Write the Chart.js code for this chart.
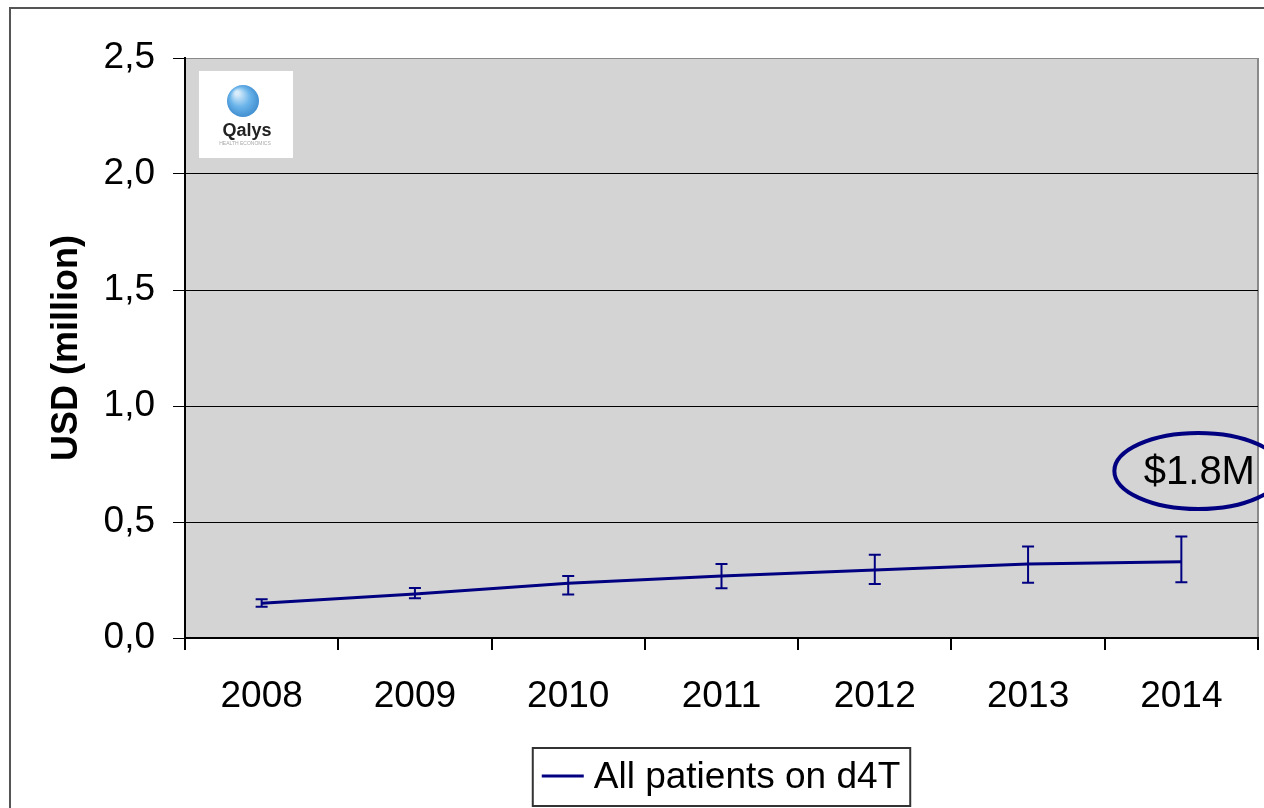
<!DOCTYPE html>
<html>
<head>
<meta charset="utf-8">
<script src="https://cdn.jsdelivr.net/npm/chart.js@4/dist/chart.umd.min.js"></script>
<style>
  html, body { margin: 0; padding: 0; background: #fff; }
  canvas { display: block; }
</style>
</head>
<body>
<canvas id="c" width="1264" height="808"></canvas>
<script>
// data
const years = ['2008', '2009', '2010', '2011', '2012', '2013', '2014'];
const cost = [0.150, 0.190, 0.236, 0.267, 0.293, 0.319, 0.329];
const errLow = [0.135, 0.171, 0.187, 0.214, 0.233, 0.238, 0.240];
const errHigh = [0.167, 0.215, 0.267, 0.319, 0.359, 0.394, 0.438];
const seriesLabel = 'All patients on d4T';
const yTitle = 'USD (million)';
const noteText = '$1.8M';
const noteValue = 0.72;

const NAVY = '#000080';
const FONT = '"Liberation Sans", Arial, sans-serif';

// background of the plot + outer frame
const frame = {
  id: 'frame',
  beforeDraw(chart) {
    const { ctx, chartArea: a } = chart;
    ctx.save();
    ctx.fillStyle = '#fff';
    ctx.fillRect(0, 0, chart.width, chart.height);
    ctx.strokeStyle = '#555';
    ctx.lineWidth = 2;
    ctx.beginPath();
    ctx.moveTo(10, chart.height + 5);
    ctx.lineTo(10, 8);
    ctx.lineTo(chart.width + 5, 8);
    ctx.stroke();
    ctx.fillStyle = '#d4d4d4';
    ctx.fillRect(a.left, a.top, a.right - a.left, a.bottom - a.top);
    ctx.strokeStyle = '#8a8a8a';
    ctx.lineWidth = 2;
    ctx.beginPath();
    ctx.moveTo(a.right, a.bottom);
    ctx.lineTo(a.right, a.top);
    ctx.stroke();
    ctx.restore();
  },
  beforeDatasetsDraw(chart) {
    // little logo in the corner of the plot
    const { ctx, chartArea: a } = chart;
    const x = a.left + 14, y = a.top + 13;
    ctx.save();
    ctx.fillStyle = '#fff';
    ctx.fillRect(x, y, 94, 87);
    const g = ctx.createRadialGradient(x + 38, y + 22, 2, x + 44, y + 30, 18);
    g.addColorStop(0, '#d8ecfb');
    g.addColorStop(0.5, '#6ab4ea');
    g.addColorStop(1, '#3a88cc');
    ctx.fillStyle = g;
    ctx.beginPath();
    ctx.arc(x + 44, y + 30, 16, 0, Math.PI * 2);
    ctx.fill();
    ctx.fillStyle = '#222';
    ctx.font = 'bold 18px ' + FONT;
    ctx.textAlign = 'center';
    ctx.textBaseline = 'middle';
    ctx.fillText('Qalys', x + 48, y + 60);
    ctx.fillStyle = '#aaa';
    ctx.font = '5px ' + FONT;
    ctx.fillText('HEALTH ECONOMICS', x + 46, y + 73);
    ctx.restore();
  }
};

// error bars + note + legend box
const extras = {
  id: 'extras',
  afterDatasetsDraw(chart) {
    const { ctx, chartArea: a } = chart;
    const xs = chart.scales.x, ys = chart.scales.y;
    ctx.save();
    ctx.strokeStyle = NAVY;
    ctx.lineWidth = 2;
    years.forEach((yr, i) => {
      const x = xs.getPixelForValue(i);
      const lo = ys.getPixelForValue(errLow[i]);
      const hi = ys.getPixelForValue(errHigh[i]);
      ctx.beginPath();
      ctx.moveTo(x, lo); ctx.lineTo(x, hi);
      ctx.moveTo(x - 6, lo); ctx.lineTo(x + 6, lo);
      ctx.moveTo(x - 6, hi); ctx.lineTo(x + 6, hi);
      ctx.stroke();
    });

    // ellipse note above the last year
    const nx = xs.getPixelForValue(years.length - 1) + 17;
    const ny = ys.getPixelForValue(noteValue);
    ctx.strokeStyle = NAVY;
    ctx.lineWidth = 4;
    ctx.beginPath();
    ctx.ellipse(nx, ny, 84, 38, 0, 0, Math.PI * 2);
    ctx.stroke();
    ctx.fillStyle = '#000';
    ctx.font = '40px ' + FONT;
    ctx.textAlign = 'center';
    ctx.textBaseline = 'middle';
    ctx.fillText(noteText, nx + 1, ny + 2);

    // legend
    ctx.font = '37px ' + FONT;
    const tw = ctx.measureText(seriesLabel).width;
    const bw = 9 + 42 + 10 + tw + 10;
    const bx = (a.left + a.right) / 2 - bw / 2;
    const by = 748;
    ctx.fillStyle = '#fff';
    ctx.fillRect(bx, by, bw, 58);
    ctx.strokeStyle = '#333';
    ctx.lineWidth = 2;
    ctx.strokeRect(bx, by, bw, 58);
    ctx.strokeStyle = NAVY;
    ctx.lineWidth = 3;
    ctx.beginPath();
    ctx.moveTo(bx + 9, by + 28);
    ctx.lineTo(bx + 51, by + 28);
    ctx.stroke();
    ctx.fillStyle = '#000';
    ctx.textAlign = 'left';
    ctx.fillText(seriesLabel, bx + 61, by + 30);
    ctx.restore();
  }
};

new Chart(document.getElementById('c').getContext('2d'), {
  type: 'line',
  data: {
    labels: years,
    datasets: [{
      label: seriesLabel,
      data: cost,
      borderColor: NAVY,
      backgroundColor: NAVY,
      borderWidth: 3,
      pointRadius: 0,
      fill: false,
      tension: 0
    }]
  },
  options: {
    responsive: false,
    devicePixelRatio: 1,
    animation: false,
    layout: { padding: { top: 58, right: 6, left: 0, bottom: 0 } },
    plugins: {
      legend: { display: false },
      tooltip: { enabled: false }
    },
    scales: {
      x: {
        offset: true,
        afterFit: s => { s.height = 170; },
        grid: {
          offset: true,
          drawOnChartArea: false,
          drawTicks: true,
          tickLength: 12,
          color: '#000',
          lineWidth: 2
        },
        border: { color: '#000', width: 2 },
        ticks: {
          color: '#000',
          padding: 25,
          font: { family: FONT, size: 37 }
        }
      },
      y: {
        min: 0,
        max: 2.5,
        afterFit: s => { s.width = 185; },
        grid: {
          color: c => (c.tick && c.tick.value === 2.5) ? '#8a8a8a' : '#000',
          lineWidth: 1,
          tickLength: 12,
          tickColor: '#000'
        },
        border: { color: '#000', width: 2 },
        ticks: {
          stepSize: 0.5,
          color: '#000',
          padding: 18,
          font: { family: FONT, size: 37 },
          callback: v => v.toFixed(1).replace('.', ',')
        },
        title: {
          display: true,
          text: yTitle,
          color: '#000',
          padding: { top: 45, bottom: 0 },
          font: { family: FONT, size: 36, weight: 'bold' }
        }
      }
    }
  },
  plugins: [frame, extras]
});
</script>
</body>
</html>
